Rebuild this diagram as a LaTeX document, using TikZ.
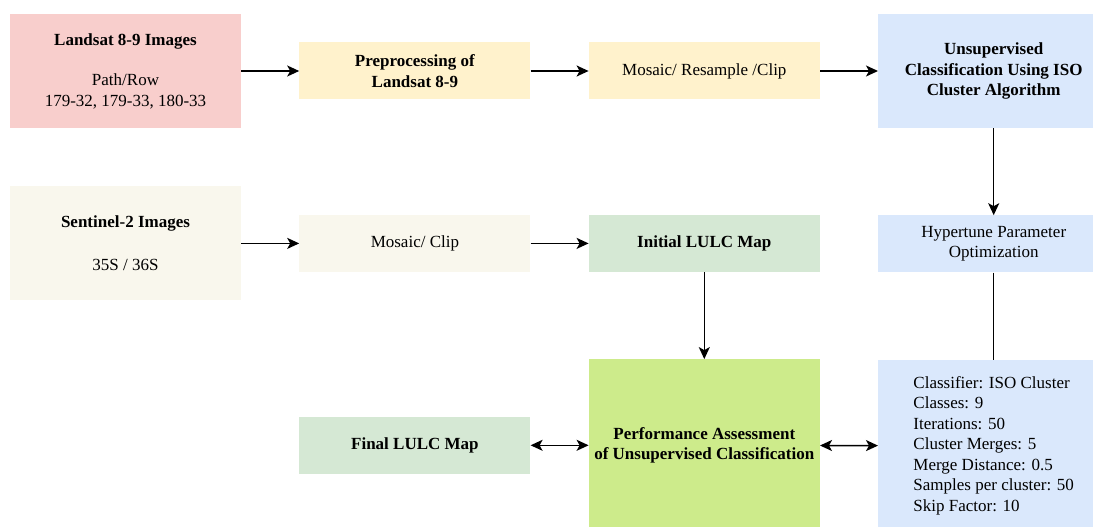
\documentclass[tikz,border=0pt]{standalone}
\usepackage{fontspec}
\setmainfont{Liberation Serif}
\usetikzlibrary{arrows.meta, positioning}
\definecolor{landsatRed}{HTML}{F8CECC}
\definecolor{prepYellow}{HTML}{FFF2CC}
\definecolor{clsBlue}{HTML}{DAE8FC}
\definecolor{sentCream}{HTML}{F9F7ED}
\definecolor{mapGreen}{HTML}{D5E8D4}
\definecolor{assessLime}{HTML}{CDEB8B}
\tikzset{
  base/.style     = {rectangle, minimum width=231pt, align=center, inner sep=2pt,
                     font=\fontsize{17}{20.5}\selectfont},
  srcbox/.style   = {base, minimum height=114pt},
  stepbox/.style  = {base, minimum height=57pt},
  bigbox/.style   = {base, minimum height=172pt},
  flow/.style     = {-{Stealth[length=12pt, width=11pt, inset=3pt]}, line width=1.5pt},
  twoway/.style   = {{Stealth[length=12pt, width=11pt, inset=3pt]}-{Stealth[length=12pt, width=11pt, inset=3pt]}, line width=1.5pt},
  link/.style     = {line width=1.5pt}
}

\begin{document}
\begin{tikzpicture}[x=1pt, y=-1pt, node distance=87pt and 58pt]
  \useasboundingbox (0,0) rectangle (1093,527);

  % Landsat branch
  \node[srcbox, fill=landsatRed]  (landsat) at (125.5,71)
                   {\textbf{Landsat 8-9 Images}\\[20pt]Path/Row\\179-32, 179-33, 180-33};
  \node[stepbox, fill=prepYellow] (preproc) [right=of landsat]
                   {\textbf{Preprocessing of}\\\textbf{Landsat 8-9}};
  \node[stepbox, fill=prepYellow] (mosaicL) [right=of preproc]
                   {Mosaic/ Resample /Clip};
  \node[srcbox, fill=clsBlue]     (unsup)   [right=of mosaicL]
                   {\textbf{Unsupervised}\\\textbf{Classification Using ISO}\\\textbf{Cluster Algorithm}};
  \node[stepbox, fill=clsBlue]    (hyper)   [below=of unsup]
                   {Hypertune Parameter\\Optimization};
  \node[bigbox, fill=clsBlue]     (params)  [below=of hyper]
                   {\begin{tabular}{@{}l@{}}Classifier: ISO Cluster\\Classes: 9\\Iterations: 50\\Cluster Merges: 5\\Merge Distance: 0.5\\Samples per cluster: 50\\Skip Factor: 10\end{tabular}};

  % Sentinel branch
  \node[srcbox, fill=sentCream]   (sentinel) [below=58pt of landsat]
                   {\textbf{Sentinel-2 Images}\\[22pt]35S / 36S};
  \node[stepbox, fill=sentCream]  (mosaicS) [right=of sentinel]
                   {Mosaic/ Clip};
  \node[stepbox, fill=mapGreen]   (initial) [right=of mosaicS]
                   {\textbf{Initial LULC Map}};
  \node[bigbox, fill=assessLime]  (assess)  [below=of initial]
                   {\textbf{Performance Assessment}\\\textbf{of Unsupervised Classification}};
  \node[stepbox, fill=mapGreen]   (final)   [left=of assess]
                   {\textbf{Final LULC Map}};

  \draw[flow] (landsat) -- (preproc);
  \draw[flow] (preproc) -- (mosaicL);
  \draw[flow] (mosaicL) -- (unsup);
  \draw[flow] (unsup) -- (hyper);
  \draw[link] (hyper) -- (params);

  \draw[flow] (sentinel) -- (mosaicS);
  \draw[flow] (mosaicS) -- (initial);
  \draw[flow] (initial) -- (assess);

  \draw[twoway] (final) -- (assess);
  \draw[twoway] (assess) -- (params);
\end{tikzpicture}
\end{document}
